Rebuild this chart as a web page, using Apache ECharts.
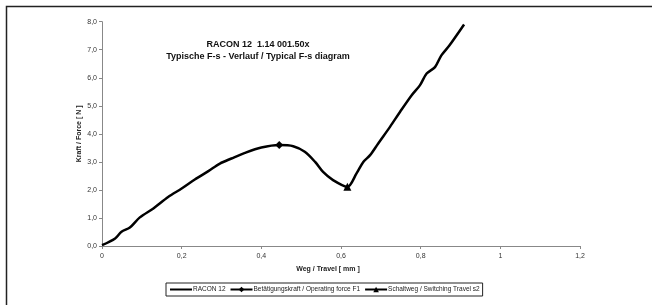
<!DOCTYPE html>
<html><head><meta charset="utf-8">
<script src="https://cdn.jsdelivr.net/npm/echarts@6/dist/echarts.min.js"></script>
<style>html,body{margin:0;padding:0;background:#fff}#c{width:652px;height:305px}</style>
</head><body><div id="c"></div>
<script>
var travel = [0, 0.033, 0.049, 0.07, 0.095, 0.129, 0.166, 0.2, 0.233, 0.267, 0.296, 0.325, 0.359, 0.4, 0.445, 0.48, 0.509, 0.535, 0.555, 0.58, 0.616, 0.639, 0.656, 0.673, 0.693, 0.723, 0.748, 0.777, 0.798, 0.815, 0.836, 0.852, 0.872, 0.909];
var force  = [0.03, 0.27, 0.51, 0.66, 1.02, 1.34, 1.75, 2.05, 2.37, 2.67, 2.94, 3.12, 3.32, 3.51, 3.6, 3.56, 3.36, 3.0, 2.64, 2.35, 2.11, 2.59, 3.0, 3.24, 3.65, 4.25, 4.78, 5.37, 5.73, 6.15, 6.38, 6.8, 7.15, 7.9];
var f1Point = [0.445, 3.6];
var s2Point = [0.616, 2.11];
var seriesNames = ['RACON 12', 'Betätigungskraft / Operating force F1', 'Schaltweg / Switching Travel s2'];
var titleLines = ['RACON 12  1.14 001.50x', 'Typische F-s - Verlauf / Typical F-s diagram'];
var xName = 'Weg / Travel [ mm ]';
var yName = 'Kraft / Force [ N ]';

var curve = travel.map(function (x, i) { return [x, force[i]]; });
var font = 'Liberation Sans, Arial, sans-serif';
var chart = echarts.init(document.getElementById('c'));
chart.setOption({
  animation: false,
  textStyle: { fontFamily: font },
  graphic: [{
    type: 'rect', left: 4, top: 4, shape: { width: 800, height: 500 },
    style: { fill: 'none', stroke: '#222', lineWidth: 1.5 }, z: -1
  }],
  title: {
    text: titleLines[0] + '\n' + titleLines[1],
    left: 253, top: 34, textAlign: 'center',
    textStyle: { fontSize: 9, fontWeight: 'bold', color: '#111', fontFamily: font, lineHeight: 12 }
  },
  legend: {
    left: 166, top: 283, orient: 'horizontal',
    itemWidth: 22, itemHeight: 7, itemGap: 4,
    padding: [3, 3, 3, 3],
    borderColor: '#222', borderWidth: 1,
    textStyle: { fontSize: 6.5, color: '#222', fontFamily: font, padding: [0, 0, 0, -4] },
    data: [
      { name: seriesNames[0], itemStyle: { opacity: 0 } },
      { name: seriesNames[1] },
      { name: seriesNames[2] }
    ]
  },
  grid: { left: 102, right: 72, top: 21.7, bottom: 59, containLabel: false },
  xAxis: {
    type: 'value', min: 0, max: 1.2, interval: 0.2,
    name: xName, nameLocation: 'middle', nameGap: 20, nameMoveOverlap: false,
    nameTextStyle: { fontSize: 7, fontWeight: 'bold', color: '#222', padding: [0, 26, 0, 0] },
    axisLine: { lineStyle: { color: '#888', width: 1 } },
    axisTick: { show: true, length: 3, lineStyle: { color: '#888' } },
    axisLabel: { fontSize: 7, color: '#333', margin: 7,
      formatter: function (v) { return (Math.round(v * 10) / 10).toString().replace('.', ','); } },
    splitLine: { show: false }
  },
  yAxis: {
    type: 'value', min: 0, max: 8, interval: 1,
    name: yName, nameLocation: 'middle', nameGap: 19, nameRotate: 90, nameMoveOverlap: false,
    nameTextStyle: { fontSize: 7, fontWeight: 'bold', color: '#222' },
    axisLine: { show: true, lineStyle: { color: '#888', width: 1 } },
    axisTick: { show: true, length: 3, lineStyle: { color: '#888' } },
    axisLabel: { fontSize: 7, color: '#333', margin: 5,
      formatter: function (v) { return v.toFixed(1).replace('.', ','); } },
    splitLine: { show: false }
  },
  series: [
    { name: seriesNames[0], type: 'line', data: curve, smooth: 0.3, showSymbol: false, symbol: 'none',
      lineStyle: { color: '#000', width: 2.5 }, itemStyle: { color: '#000' } },
    { name: seriesNames[1], type: 'line', data: [f1Point], symbol: 'diamond', symbolSize: 8,
      lineStyle: { color: '#000', width: 2.5 }, itemStyle: { color: '#000' }, z: 3 },
    { name: seriesNames[2], type: 'line', data: [s2Point], symbol: 'triangle', symbolSize: 8,
      lineStyle: { color: '#000', width: 2.5 }, itemStyle: { color: '#000' }, z: 3 }
  ]
});
</script></body></html>
